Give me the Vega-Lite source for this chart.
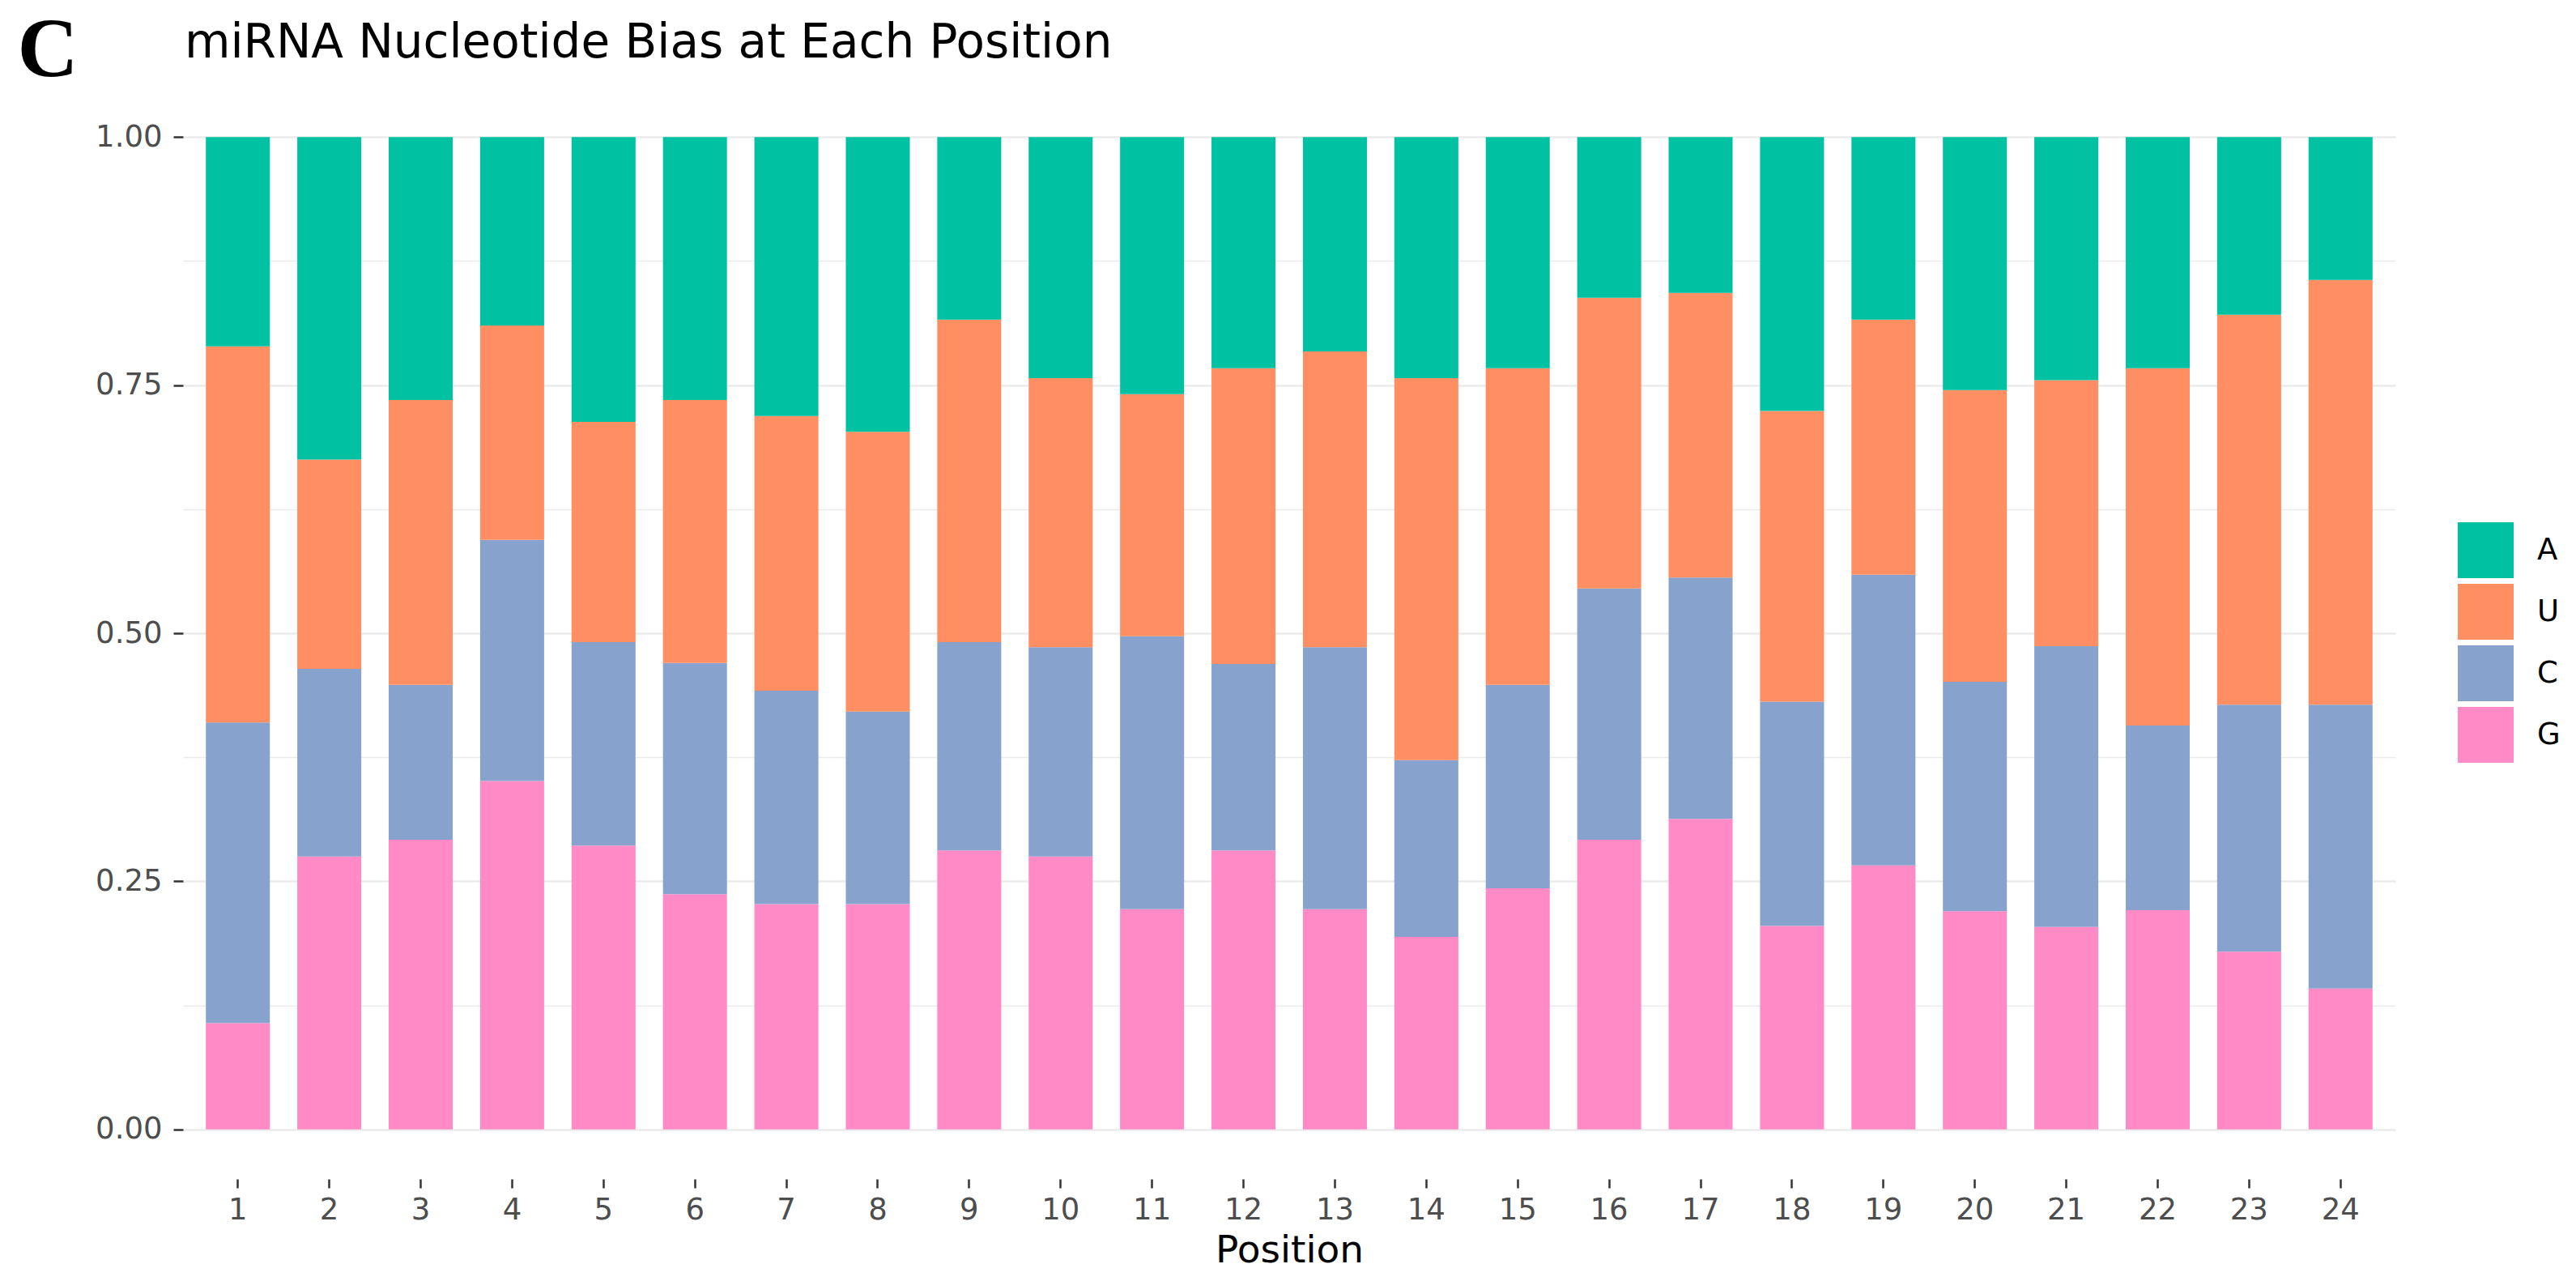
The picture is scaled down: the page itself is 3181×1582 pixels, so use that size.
{
  "$schema": "https://vega.github.io/schema/vega-lite/v6.json",
  "autosize": {"type": "none"},
  "padding": {"left": 226, "top": 108, "right": 223, "bottom": 126},
  "width": 2732,
  "height": 1348,
  "background": "white",
  "title": {
    "text": "miRNA Nucleotide Bias at Each Position",
    "anchor": "start",
    "frame": "group",
    "font": "DejaVu Sans",
    "fontSize": 58,
    "fontWeight": "normal",
    "color": "#000000",
    "baseline": "alphabetic",
    "offset": -119,
    "dx": 2
  },
  "data": {
    "values": [
      {"Position": 1, "Nucleotide": "G", "Proportion": 0.107}, {"Position": 1, "Nucleotide": "C", "Proportion": 0.303}, {"Position": 1, "Nucleotide": "U", "Proportion": 0.379}, {"Position": 1, "Nucleotide": "A", "Proportion": 0.211},
      {"Position": 2, "Nucleotide": "G", "Proportion": 0.275}, {"Position": 2, "Nucleotide": "C", "Proportion": 0.189}, {"Position": 2, "Nucleotide": "U", "Proportion": 0.211}, {"Position": 2, "Nucleotide": "A", "Proportion": 0.325},
      {"Position": 3, "Nucleotide": "G", "Proportion": 0.292}, {"Position": 3, "Nucleotide": "C", "Proportion": 0.156}, {"Position": 3, "Nucleotide": "U", "Proportion": 0.287}, {"Position": 3, "Nucleotide": "A", "Proportion": 0.265},
      {"Position": 4, "Nucleotide": "G", "Proportion": 0.351}, {"Position": 4, "Nucleotide": "C", "Proportion": 0.243}, {"Position": 4, "Nucleotide": "U", "Proportion": 0.216}, {"Position": 4, "Nucleotide": "A", "Proportion": 0.190},
      {"Position": 5, "Nucleotide": "G", "Proportion": 0.286}, {"Position": 5, "Nucleotide": "C", "Proportion": 0.205}, {"Position": 5, "Nucleotide": "U", "Proportion": 0.222}, {"Position": 5, "Nucleotide": "A", "Proportion": 0.287},
      {"Position": 6, "Nucleotide": "G", "Proportion": 0.237}, {"Position": 6, "Nucleotide": "C", "Proportion": 0.233}, {"Position": 6, "Nucleotide": "U", "Proportion": 0.265}, {"Position": 6, "Nucleotide": "A", "Proportion": 0.265},
      {"Position": 7, "Nucleotide": "G", "Proportion": 0.227}, {"Position": 7, "Nucleotide": "C", "Proportion": 0.215}, {"Position": 7, "Nucleotide": "U", "Proportion": 0.277}, {"Position": 7, "Nucleotide": "A", "Proportion": 0.281},
      {"Position": 8, "Nucleotide": "G", "Proportion": 0.227}, {"Position": 8, "Nucleotide": "C", "Proportion": 0.194}, {"Position": 8, "Nucleotide": "U", "Proportion": 0.282}, {"Position": 8, "Nucleotide": "A", "Proportion": 0.297},
      {"Position": 9, "Nucleotide": "G", "Proportion": 0.281}, {"Position": 9, "Nucleotide": "C", "Proportion": 0.210}, {"Position": 9, "Nucleotide": "U", "Proportion": 0.325}, {"Position": 9, "Nucleotide": "A", "Proportion": 0.184},
      {"Position": 10, "Nucleotide": "G", "Proportion": 0.275}, {"Position": 10, "Nucleotide": "C", "Proportion": 0.211}, {"Position": 10, "Nucleotide": "U", "Proportion": 0.271}, {"Position": 10, "Nucleotide": "A", "Proportion": 0.243},
      {"Position": 11, "Nucleotide": "G", "Proportion": 0.222}, {"Position": 11, "Nucleotide": "C", "Proportion": 0.275}, {"Position": 11, "Nucleotide": "U", "Proportion": 0.244}, {"Position": 11, "Nucleotide": "A", "Proportion": 0.259},
      {"Position": 12, "Nucleotide": "G", "Proportion": 0.281}, {"Position": 12, "Nucleotide": "C", "Proportion": 0.188}, {"Position": 12, "Nucleotide": "U", "Proportion": 0.298}, {"Position": 12, "Nucleotide": "A", "Proportion": 0.233},
      {"Position": 13, "Nucleotide": "G", "Proportion": 0.222}, {"Position": 13, "Nucleotide": "C", "Proportion": 0.264}, {"Position": 13, "Nucleotide": "U", "Proportion": 0.298}, {"Position": 13, "Nucleotide": "A", "Proportion": 0.216},
      {"Position": 14, "Nucleotide": "G", "Proportion": 0.194}, {"Position": 14, "Nucleotide": "C", "Proportion": 0.178}, {"Position": 14, "Nucleotide": "U", "Proportion": 0.385}, {"Position": 14, "Nucleotide": "A", "Proportion": 0.243},
      {"Position": 15, "Nucleotide": "G", "Proportion": 0.243}, {"Position": 15, "Nucleotide": "C", "Proportion": 0.205}, {"Position": 15, "Nucleotide": "U", "Proportion": 0.319}, {"Position": 15, "Nucleotide": "A", "Proportion": 0.233},
      {"Position": 16, "Nucleotide": "G", "Proportion": 0.292}, {"Position": 16, "Nucleotide": "C", "Proportion": 0.253}, {"Position": 16, "Nucleotide": "U", "Proportion": 0.293}, {"Position": 16, "Nucleotide": "A", "Proportion": 0.162},
      {"Position": 17, "Nucleotide": "G", "Proportion": 0.313}, {"Position": 17, "Nucleotide": "C", "Proportion": 0.243}, {"Position": 17, "Nucleotide": "U", "Proportion": 0.287}, {"Position": 17, "Nucleotide": "A", "Proportion": 0.157},
      {"Position": 18, "Nucleotide": "G", "Proportion": 0.205}, {"Position": 18, "Nucleotide": "C", "Proportion": 0.226}, {"Position": 18, "Nucleotide": "U", "Proportion": 0.293}, {"Position": 18, "Nucleotide": "A", "Proportion": 0.276},
      {"Position": 19, "Nucleotide": "G", "Proportion": 0.266}, {"Position": 19, "Nucleotide": "C", "Proportion": 0.293}, {"Position": 19, "Nucleotide": "U", "Proportion": 0.257}, {"Position": 19, "Nucleotide": "A", "Proportion": 0.184},
      {"Position": 20, "Nucleotide": "G", "Proportion": 0.220}, {"Position": 20, "Nucleotide": "C", "Proportion": 0.231}, {"Position": 20, "Nucleotide": "U", "Proportion": 0.294}, {"Position": 20, "Nucleotide": "A", "Proportion": 0.255},
      {"Position": 21, "Nucleotide": "G", "Proportion": 0.204}, {"Position": 21, "Nucleotide": "C", "Proportion": 0.283}, {"Position": 21, "Nucleotide": "U", "Proportion": 0.268}, {"Position": 21, "Nucleotide": "A", "Proportion": 0.245},
      {"Position": 22, "Nucleotide": "G", "Proportion": 0.221}, {"Position": 22, "Nucleotide": "C", "Proportion": 0.186}, {"Position": 22, "Nucleotide": "U", "Proportion": 0.360}, {"Position": 22, "Nucleotide": "A", "Proportion": 0.233},
      {"Position": 23, "Nucleotide": "G", "Proportion": 0.179}, {"Position": 23, "Nucleotide": "C", "Proportion": 0.249}, {"Position": 23, "Nucleotide": "U", "Proportion": 0.393}, {"Position": 23, "Nucleotide": "A", "Proportion": 0.179},
      {"Position": 24, "Nucleotide": "G", "Proportion": 0.142}, {"Position": 24, "Nucleotide": "C", "Proportion": 0.286}, {"Position": 24, "Nucleotide": "U", "Proportion": 0.428}, {"Position": 24, "Nucleotide": "A", "Proportion": 0.144}
    ]
  },
  "transform": [
    {"calculate": "indexof(['G','C','U','A'], datum.Nucleotide)", "as": "stackRank"}
  ],
  "mark": {"type": "bar", "strokeWidth": 0},
  "encoding": {
    "x": {
      "field": "Position",
      "type": "ordinal",
      "scale": {"paddingInner": 0.3, "paddingOuter": 0.25},
      "axis": {
        "title": "Position",
        "labelAngle": 0,
        "domain": false,
        "grid": false,
        "ticks": true,
        "tickSize": 11,
        "tickWidth": 2.5,
        "tickColor": "#333333",
        "labelFont": "DejaVu Sans",
        "labelFontSize": 37,
        "labelColor": "#4D4D4D",
        "labelPadding": 9,
        "titleFont": "DejaVu Sans",
        "titleFontSize": 47,
        "titleFontWeight": "normal",
        "titleColor": "#000000",
        "titleBaseline": "alphabetic",
        "titleY": 102
      }
    },
    "y": {
      "field": "Proportion",
      "type": "quantitative",
      "stack": "zero",
      "scale": {"domain": [-0.05, 1.05], "nice": false, "zero": false},
      "axis": {
        "title": "C",
        "titleAngle": 0,
        "titleFont": "Liberation Serif",
        "titleFontWeight": "bold",
        "titleFontSize": 104,
        "titleColor": "#000000",
        "titleAlign": "left",
        "titleBaseline": "alphabetic",
        "titleX": -205,
        "titleY": -15,
        "values": [0, 0.125, 0.25, 0.375, 0.5, 0.625, 0.75, 0.875, 1],
        "labelExpr": "(datum.value * 4) % 1 == 0 ? format(datum.value, '.2f') : ''",
        "domain": false,
        "grid": true,
        "gridColor": "#EBEBEB",
        "gridWidth": {"condition": {"test": "(datum.value * 4) % 1 != 0", "value": 1.3}, "value": 2.6},
        "tickSize": 12,
        "tickWidth": 2.5,
        "tickColor": {"condition": {"test": "(datum.value * 4) % 1 != 0", "value": "transparent"}, "value": "#333333"},
        "labelFont": "DejaVu Sans",
        "labelFontSize": 37,
        "labelColor": "#4D4D4D",
        "labelPadding": 14
      }
    },
    "color": {
      "field": "Nucleotide",
      "type": "nominal",
      "scale": {
        "domain": ["A", "U", "C", "G"],
        "range": ["#00C2A3", "#FF8E62", "#87A2CD", "#FF8AC6"]
      },
      "legend": {
        "title": null,
        "orient": "none",
        "legendX": 2809,
        "legendY": 537,
        "symbolType": "square",
        "symbolSize": 4761,
        "symbolStrokeWidth": 0,
        "symbolOpacity": 1,
        "labelFont": "DejaVu Sans",
        "labelFontSize": 37,
        "labelColor": "#000000",
        "labelOffset": 29,
        "rowPadding": 7,
        "padding": 0
      }
    },
    "order": {"field": "stackRank", "type": "quantitative", "sort": "ascending"}
  },
  "config": {
    "view": {"stroke": null},
    "axis": {"gridCap": "butt"}
  }
}
